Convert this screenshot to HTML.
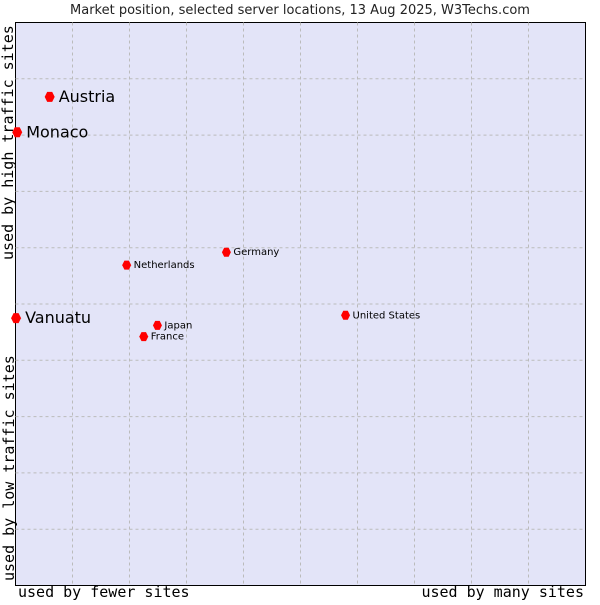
<!DOCTYPE html>
<html><head><meta charset="utf-8"><style>
body{margin:0;background:#fff;width:600px;height:600px;overflow:hidden}
text{font-family:"DejaVu Sans","Liberation Sans",sans-serif}
.mono{font-family:"DejaVu Sans Mono","Liberation Mono",monospace}
</style></head><body>
<svg id="chart" width="600" height="600">
<text x="300" y="14" text-anchor="middle" font-size="13" fill="#222">Market position, selected server locations, 13 Aug 2025, W3Techs.com</text>
<rect x="15.5" y="22.5" width="570" height="563" fill="#e3e4f8" stroke="#000"/>
<g id="grid"></g>
<g id="pts"></g>
<text class="mono" x="18" y="597" font-size="15">used by fewer sites</text>
<text class="mono" x="584" y="597" font-size="15" text-anchor="end">used by many sites</text>
<text class="mono" transform="translate(14,581) rotate(-90)" font-size="15">used by low traffic sites</text>
<text class="mono" transform="translate(13,260) rotate(-90)" font-size="15">used by high traffic sites</text>
</svg>
<script>
const names=["Austria","Monaco","Vanuatu","Netherlands","Germany","United States","Japan","France"];
const xVals=[6.0,0.3,0.1,19.5,37.0,57.9,24.9,22.5];
const yVals=[86.8,80.5,47.5,56.9,59.2,48.0,46.2,44.2];
const big=[true,true,true,false,false,false,false,false];
const X0=15.5,X1=585.5,Y0=585.5,Y1=22.5;
const sx=v=>X0+v/100*(X1-X0), sy=v=>Y0-v/100*(Y0-Y1);
const NS="http://www.w3.org/2000/svg";
const g=document.getElementById('grid');
for(let i=1;i<10;i++){
 const v=document.createElementNS(NS,'line');
 v.setAttribute('x1',sx(i*10));v.setAttribute('x2',sx(i*10));v.setAttribute('y1',Y1);v.setAttribute('y2',Y0);
 v.setAttribute('stroke','#bbb');v.setAttribute('stroke-dasharray','3,3');
 
 
 g.appendChild(v);
 const h=document.createElementNS(NS,'line');
 h.setAttribute('y1',sy(i*10));h.setAttribute('y2',sy(i*10));h.setAttribute('x1',X0);h.setAttribute('x2',X1);
 h.setAttribute('stroke','#bbb');h.setAttribute('stroke-dasharray','3,3');
 
 
 g.appendChild(h);
}
const p=document.getElementById('pts');
names.forEach((n,i)=>{
 const x=sx(xVals[i]),y=sy(yVals[i]);
 const c=document.createElementNS(NS,'polygon');
 const r=big[i]?5:4.5;
 c.setAttribute('points',`${x-r},${y} ${x-r/2},${y-r} ${x+r/2},${y-r} ${x+r},${y} ${x+r/2},${y+r} ${x-r/2},${y+r}`);
 c.setAttribute('fill','#f00');
 
 
 p.appendChild(c);
 const t=document.createElementNS(NS,'text');
 t.setAttribute('x',x+(big[i]?9:7));t.setAttribute('y',y+(big[i]?5:3));
 t.setAttribute('font-size',big[i]?16:10);
 t.textContent=n;
 
 
 p.appendChild(t);
});
</script>
</body></html>
